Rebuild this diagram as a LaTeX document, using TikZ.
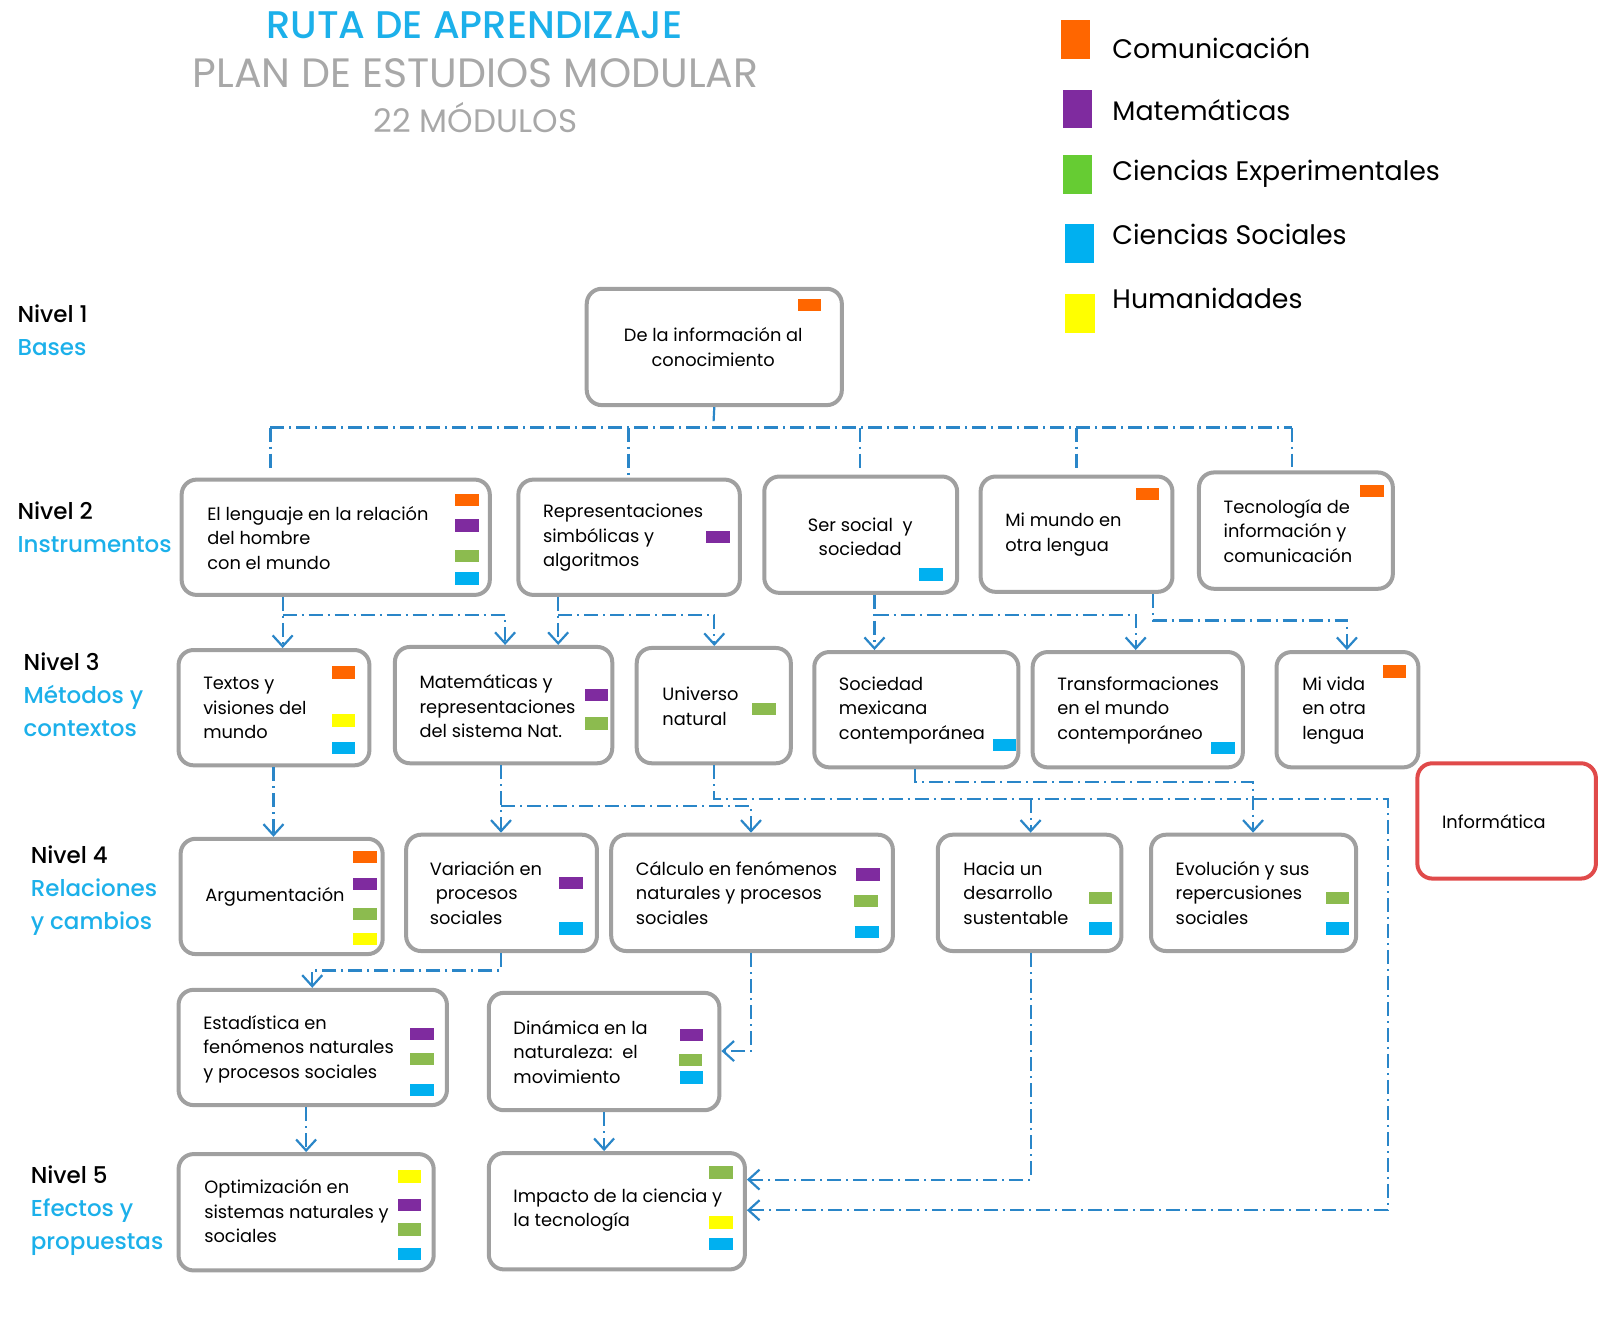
\documentclass[tikz,border=0pt]{standalone}
\usepackage{fontspec}
\setmainfont{Poppins}
\newfontfamily\popmed{Poppins Medium}
\usetikzlibrary{arrows.meta,fit}
\definecolor{cOr}{HTML}{FF6600}
\definecolor{cPu}{HTML}{7F2B9F}
\definecolor{cGr}{HTML}{8CBB4F}
\definecolor{cCy}{HTML}{00B0F0}
\definecolor{cYe}{HTML}{FFFF00}
\definecolor{cLg}{HTML}{66CC33}
\definecolor{lineblue}{HTML}{2A86C8}
\definecolor{boxgray}{HTML}{A0A0A0}
\definecolor{titlecy}{HTML}{1CB0EA}
\definecolor{titlegray}{HTML}{A8A8A8}
\definecolor{infred}{HTML}{E04A4A}
\newcommand\bxf{\fontsize{17.8}{24.5}\selectfont}
\newcommand\lvf{\popmed\fontsize{23}{33}\selectfont}
\newcommand\lgf{\fontsize{26.8}{30}\selectfont}
\newcommand\sqr[2]{\fill[#1] (#2) rectangle ++(23,12);}
\tikzset{
  box/.style={draw=boxgray, line width=4pt, rounded corners=15pt, inner sep=0pt, fill=white},
  redbox/.style={box, draw=infred},
  txt/.style={anchor=west, align=left, inner sep=0pt, font=\bxf},
  ctxt/.style={align=center, inner sep=0pt, font=\bxf},
  lvl/.style={anchor=west, align=left, inner sep=0pt, font=\lvf},
  lg/.style={anchor=west, inner sep=0pt, font=\lgf},
  conn/.style={draw=lineblue, line width=2.2pt, dash pattern=on 14pt off 5pt on 2pt off 5pt},
  arr/.style={conn, -{Straight Barb[length=11pt,width=20pt]}}
}
\begin{document}
\begin{tikzpicture}[x=1.0204pt,y=-1.0204pt]
\useasboundingbox (0,0) rectangle (1568,1291);
% titles
\node[inner sep=0pt, text=titlecy, font=\popmed\fontsize{38.5}{42}\selectfont] (title) at (465,25) {RUTA DE APRENDIZAJE};
\node[inner sep=0pt, text=titlegray, font=\fontsize{41}{44}\selectfont] (sub) at (466,72) {PLAN DE ESTUDIOS MODULAR};
\node[inner sep=0pt, text=titlegray, font=\fontsize{32.5}{36}\selectfont] (mods) at (466,115) {22 MÓDULOS};
% legend
\fill[cOr] (1040,20) rectangle (1068,58);
\fill[cPu] (1042,88) rectangle (1070,125);
\fill[cLg] (1042,152) rectangle (1070,190);
\fill[cCy] (1044,220) rectangle (1072,258);
\fill[cYe] (1044,288) rectangle (1073,326);
\node[lg] (lg1) at (1090,47) {Comunicación};
\node[lg] (lg2) at (1090,108) {Matemáticas};
\node[lg] (lg3) at (1090,170) {Ciencias Experimentales};
\node[lg] (lg4) at (1090,230) {Ciencias Sociales};
\node[lg] (lg5) at (1090,292) {Humanidades};
% level labels
\node[lvl] (n1) at (17,324) {Nivel 1\\\textcolor{titlecy}{Bases}};
\node[lvl] (n2) at (17,517) {Nivel 2\\\textcolor{titlecy}{Instrumentos}};
\node[lvl] (n3) at (23,681) {Nivel 3\\\textcolor{titlecy}{Métodos y}\\\textcolor{titlecy}{contextos}};
\node[lvl] (n4) at (30,873) {Nivel 4\\\textcolor{titlecy}{Relaciones}\\\textcolor{titlecy}{y cambios}};
\node[lvl] (n5) at (30,1186) {Nivel 5\\\textcolor{titlecy}{Efectos y}\\\textcolor{titlecy}{propuestas}};
% boxes
\node[box, fit={(575,283) (825,397)}] (b1) {};
\node[box, fit={(178,470) (480,583)}] (b2a) {};
\node[box, fit={(508,470) (725,583)}] (b2b) {};
\node[box, fit={(749,467) (938,581)}] (b2c) {};
\node[box, fit={(961,467) (1149,580)}] (b2d) {};
\node[box, fit={(1175,463) (1365,577)}] (b2e) {};
\node[box, fit={(175,637) (362,750)}] (b3a) {};
\node[box, fit={(387,634) (600,748)}] (b3b) {};
\node[box, fit={(624,635) (775,748)}] (b3c) {};
\node[box, fit={(798,639) (998,752)}] (b3d) {};
\node[box, fit={(1012,639) (1218,752)}] (b3e) {};
\node[box, fit={(1251,639) (1390,752)}] (b3f) {};
\node[redbox, fit={(1389,748) (1564,861)}] (binf) {};
\node[box, fit={(177,822) (375,935)}] (b4a) {};
\node[box, fit={(398,818) (585,932)}] (b4b) {};
\node[box, fit={(599,818) (875,932)}] (b4c) {};
\node[box, fit={(919,818) (1099,932)}] (b4d) {};
\node[box, fit={(1128,818) (1329,932)}] (b4e) {};
\node[box, fit={(175,970) (438,1083)}] (b45a) {};
\node[box, fit={(479,973) (705,1088)}] (b45b) {};
\node[box, fit={(175,1131) (425,1245)}] (b5a) {};
\node[box, fit={(479,1130) (730,1244)}] (b5b) {};
% texts
\node[ctxt] (t1) at (699,340) {De la información al\\conocimiento};
\node[txt] (t2a) at (203,527) {El lenguaje en la relación\\del hombre\\con el mundo};
\node[txt] (t2b) at (532,527) {Representaciones\\simbólicas y\\algoritmos};
\node[ctxt] (t2c) at (843,526) {Ser social~~y\\sociedad};
\node[txt] (t2d) at (985,524) {Mi mundo en\\otra lengua};
\node[txt] (t2e) at (1199,520) {Tecnología de\\información y\\comunicación};
\node[txt] (t3a) at (199,694) {Textos y\\visiones del\\mundo};
\node[txt] (t3b) at (411,692) {Matemáticas y\\representaciones\\del sistema Nat.};
\node[txt] (t3c) at (649,692) {Universo\\natural};
\node[txt] (t3d) at (822,696) {Sociedad\\mexicana\\contemporánea};
\node[txt] (t3e) at (1036,696) {Transformaciones\\en el mundo\\contemporáneo};
\node[txt] (t3f) at (1276,696) {Mi vida\\en otra\\lengua};
\node[txt] (tinf) at (1413,805) {Informática};
\node[txt] (t4a) at (201,879) {Argumentación};
\node[txt] (t4b) at (421,875) {Variación en\\\hspace*{6pt}procesos\\sociales};
\node[txt] (t4c) at (623,875) {Cálculo en fenómenos\\naturales y procesos\\sociales};
\node[txt] (t4d) at (944,875) {Hacia un\\desarrollo\\sustentable};
\node[txt] (t4e) at (1152,875) {Evolución y sus\\repercusiones\\sociales};
\node[txt] (t45a) at (199,1028) {Estadística en\\fenómenos naturales\\y procesos sociales};
\node[txt] (t45b) at (503,1031) {Dinámica en la\\naturaleza:~~el\\movimiento};
\node[txt] (t5a) at (200,1187) {Optimización en\\sistemas naturales y\\sociales};
\node[txt] (t5b) at (503,1186) {Impacto de la ciencia y\\la tecnología};
% squares
\sqr{cOr}{782,293}
\sqr{cOr}{446,484}\sqr{cPu}{446,509}\sqr{cGr}{446,539}\sqr{cCy}{446,561}
\sqr{cPu}{692,520}
\sqr{cCy}{901,557}
\sqr{cOr}{1113,478}
\sqr{cOr}{1333,475}
\sqr{cOr}{325,653}\sqr{cYe}{325,700}\sqr{cCy}{325,727}
\sqr{cPu}{573,675}\sqr{cGr}{573,703}
\sqr{cGr}{737,689}
\sqr{cCy}{973,724}
\sqr{cCy}{1187,727}
\sqr{cOr}{1355,652}
\sqr{cOr}{346,834}\sqr{cPu}{346,860}\sqr{cGr}{346,890}\sqr{cYe}{346,914}
\sqr{cPu}{548,859}\sqr{cCy}{548,904}
\sqr{cPu}{839,851}\sqr{cGr}{837,877}\sqr{cCy}{838,907}
\sqr{cGr}{1067,874}\sqr{cCy}{1067,904}
\sqr{cGr}{1299,874}\sqr{cCy}{1299,904}
\sqr{cPu}{402,1007}\sqr{cGr}{402,1032}\sqr{cCy}{402,1062}
\sqr{cPu}{666,1008}\sqr{cGr}{665,1033}\sqr{cCy}{666,1050}
\sqr{cYe}{390,1147}\sqr{cPu}{390,1175}\sqr{cGr}{390,1199}\sqr{cCy}{390,1223}
\sqr{cGr}{695,1143}\sqr{cYe}{695,1192}\sqr{cCy}{695,1213}
% junction coordinates
\coordinate (h0) at (699,419);
\coordinate (hA) at (265,419);
\coordinate (hB) at (616,419);
\coordinate (hC) at (843,419);
\coordinate (hD) at (1055,419);
\coordinate (hE) at (1266,419);
\coordinate (j1a) at (277,603); \coordinate (j1b) at (495,603);
\coordinate (j2a) at (547,603); \coordinate (j2b) at (700,603);
\coordinate (j3a) at (857,603); \coordinate (j3b) at (1113,603);
\coordinate (j4a) at (1130,608); \coordinate (j4b) at (1320,608);
\coordinate (j5) at (268,760);
\coordinate (j6a) at (491,790); \coordinate (j6b) at (736,790);
\coordinate (j7a) at (700,783); \coordinate (j7b) at (1360,783); \coordinate (j7c) at (1010,783);
\coordinate (j8a) at (897,766); \coordinate (j8b) at (1228,766);
\coordinate (j9a) at (491,951); \coordinate (j9b) at (306,951);
\coordinate (j10) at (736,1030);
\coordinate (j11) at (1010,1156);
\coordinate (j12) at (300,1095);
\coordinate (j13) at (592,1095);
\coordinate (j14) at (1360,1186);
% level 1 -> 2
\draw[conn] (b1.south) -- (h0);
\draw[conn] (hA) -- (hE);
\draw[conn, shorten >=8pt] (hA) -- (hA |- b2a.north);
\draw[conn, shorten >=2pt] (hB) -- (hB |- b2b.north);
\draw[conn, shorten >=2pt] (hC) -- (hC |- b2c.north);
\draw[conn, shorten >=2pt] (hD) -- (hD |- b2d.north);
\draw[conn, shorten >=3pt] (hE) -- (hE |- b2e.north);
% level 2 -> 3
\draw[arr] (j1a |- b2a.south) -- (j1a |- b3a.north);
\draw[arr] (j1a) -- (j1b) -- (j1b |- b3b.north);
\draw[arr] (j2a |- b2b.south) -- (j2a |- b3b.north);
\draw[arr] (j2a) -- (j2b) -- (j2b |- b3c.north);
\draw[arr] (j3a |- b2c.south) -- (j3a |- b3d.north);
\draw[arr] (j3a) -- (j3b) -- (j3b |- b3e.north);
\draw[arr] (j4a |- b2d.south) -- (j4a) -- (j4b) -- (j4b |- b3f.north);
% level 3 -> 4
\draw[arr] (j5 |- b3a.south) -- (j5 |- b4a.north);
\draw[arr] (j6a |- b3b.south) -- (j6a |- b4b.north);
\draw[arr] (j6a) -- (j6b) -- (j6b |- b4c.north);
\draw[arr] (j7a |- b3c.south) -- (j7a) -- (j7b) -- (j14) -- (j14 -| b5b.east);
\draw[arr] (j7c) -- (j7c |- b4d.north);
\draw[arr] (j8a |- b3d.south) -- (j8a) -- (j8b) -- (j8b |- b4e.north);
% level 4 -> lower
\draw[arr] (j9a |- b4b.south) -- (j9a) -- (j9b) -- (j9b |- b45a.north);
\draw[arr] (j10 |- b4c.south) -- (j10) -- (j10 -| b45b.east);
\draw[arr] (j11 |- b4d.south) -- (j11) -- (j11 -| b5b.east);
\draw[arr] (j12 |- b45a.south) -- (j12 |- b5a.north);
\draw[arr] (j13 |- b45b.south) -- (j13 |- b5b.north);
\end{tikzpicture}
\end{document}
